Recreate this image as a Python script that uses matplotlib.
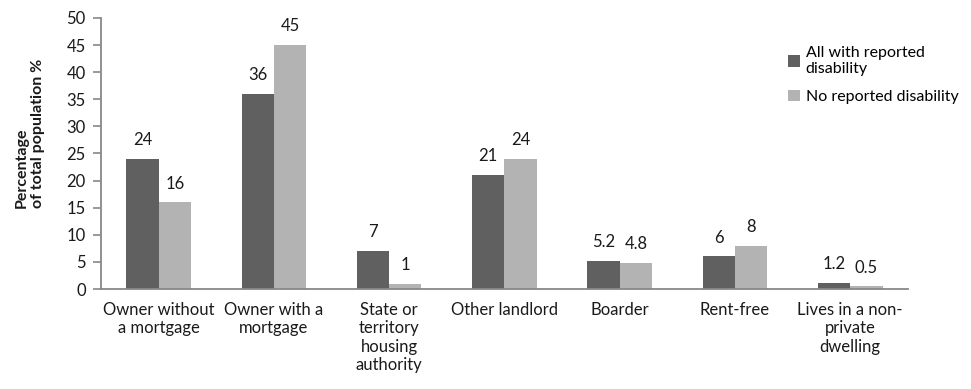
import numpy as np
import matplotlib.pyplot as plt

plt.rcParams['font.family'] = ['Lato', 'DejaVu Sans']

categories = ['Owner without\na mortgage', 'Owner with a\nmortgage', 'State or\nterritory\nhousing\nauthority',
              'Other landlord', 'Boarder', 'Rent-free', 'Lives in a non-\nprivate\ndwelling']
disability = [24, 36, 7, 21, 5.2, 6, 1.2]
no_disability = [16, 45, 1, 24, 4.8, 8, 0.5]
disability_labels = ['24', '36', '7', '21', '5.2', '6', '1.2']
no_disability_labels = ['16', '45', '1', '24', '4.8', '8', '0.5']

FS = 12
TXT = '#1a1a1a'

fig = plt.figure(figsize=(9.71, 3.89), dpi=100)
ax = fig.add_axes([0.104, 0.257, 0.831, 0.697])

x = np.arange(len(categories))
w = 0.28
b1 = ax.bar(x - w / 2, disability, w, color='#606060', label='All with reported\ndisability')
b2 = ax.bar(x + w / 2, no_disability, w, color='#b3b3b3', label='No reported disability')

# value labels above each bar
for bars, labs in ((b1, disability_labels), (b2, no_disability_labels)):
    for b, t in zip(bars, labs):
        ax.annotate(t, (b.get_x() + b.get_width() / 2, b.get_height()),
                    xytext=(0, 13.5), textcoords='offset points',
                    ha='center', va='center', fontsize=FS, color=TXT)

ax.set_xlim(-0.5, len(categories) - 0.5)
ax.set_ylim(0, 50)
ax.set_yticks(range(0, 51, 5))
ax.set_xticks(x)
ax.set_xticklabels(categories, fontsize=FS, color=TXT, linespacing=1.2)
ax.tick_params(axis='x', length=0, pad=9)
ax.tick_params(axis='y', labelsize=FS, labelcolor=TXT, color='#888888', length=6, width=1.2, pad=5)

for s in ('top', 'right'):
    ax.spines[s].set_visible(False)
for s in ('left', 'bottom'):
    ax.spines[s].set_color('#888888')
    ax.spines[s].set_linewidth(1.3)

fig.text(0.031, 0.658, 'Percentage\nof total population %', rotation=90, ha='center', va='center',
         multialignment='left', fontsize=FS - 0.5, fontweight='bold', color=TXT)

fig.legend(loc='upper left', bbox_to_anchor=(0.8115, 0.882), frameon=False, fontsize=11.5,
           handlelength=0.75, handleheight=0.75, labelspacing=0.85, handletextpad=0.35,
           borderpad=0, borderaxespad=0)

fig.savefig('out.png', dpi=100)
